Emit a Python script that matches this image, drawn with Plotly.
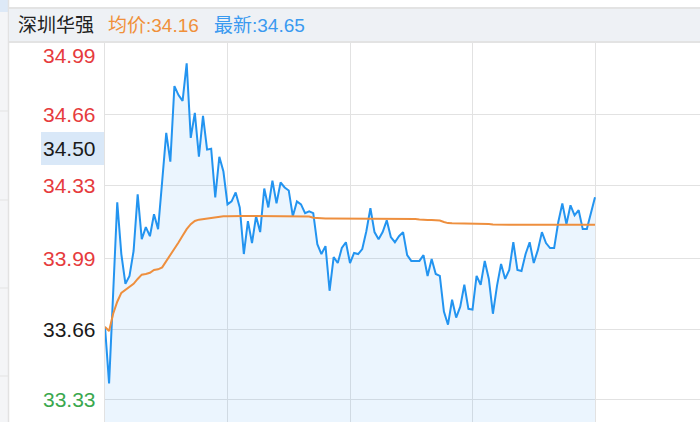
import plotly.graph_objects as go

W, H = 700, 422

stock_name = "深圳华强"
avg_label = "均价:34.16"
last_label = "最新:34.65"

# minute index (every 2 minutes, 0..120)
minutes = list(range(121))

price = [33.670, 33.407, 33.828, 34.250, 34.009, 33.870, 33.907, 34.023, 34.287, 34.078,
         34.134, 34.092, 34.194, 34.125, 34.347, 34.573, 34.439, 34.791, 34.749, 34.722,
         34.897, 34.550, 34.666, 34.462, 34.652, 34.495, 34.499, 34.273, 34.462, 34.393,
         34.240, 34.254, 34.296, 34.226, 34.009, 34.162, 34.060, 34.185, 34.111, 34.314,
         34.226, 34.351, 34.245, 34.342, 34.319, 34.305, 34.185, 34.254, 34.240, 34.199,
         34.208, 34.199, 34.055, 34.009, 34.046, 33.838, 33.995, 33.967, 34.037, 34.064,
         33.967, 34.014, 34.009, 34.032, 34.115, 34.222, 34.111, 34.078, 34.111, 34.166,
         34.088, 34.064, 34.092, 34.111, 34.004, 33.977, 33.977, 33.977, 34.004, 33.907,
         33.986, 33.916, 33.907, 33.741, 33.680, 33.796, 33.713, 33.764, 33.866, 33.754,
         33.750, 33.907, 33.866, 33.977, 33.893, 33.731, 33.861, 33.963, 33.893, 33.935,
         34.064, 33.935, 33.930, 34.009, 34.064, 33.967, 34.027, 34.111, 34.060, 34.037,
         34.037, 34.157, 34.245, 34.148, 34.236, 34.189, 34.213, 34.125, 34.125, 34.194,
         34.273]

avg_price = [33.670, 33.651, 33.731, 33.787, 33.828, 33.842, 33.856, 33.870, 33.893, 33.913,
             33.916, 33.922, 33.935, 33.938, 33.947, 33.975, 34.009, 34.032, 34.063, 34.094,
             34.125, 34.148, 34.163, 34.169, 34.172, 34.176, 34.179, 34.182, 34.183, 34.185,
             34.185, 34.186, 34.186, 34.186, 34.186, 34.186, 34.186, 34.186, 34.186, 34.186,
             34.186, 34.186, 34.186, 34.186, 34.186, 34.186, 34.186, 34.186, 34.186, 34.186,
             34.184, 34.178, 34.176, 34.175, 34.175, 34.175, 34.175, 34.175, 34.175, 34.175,
             34.174, 34.174, 34.174, 34.174, 34.174, 34.174, 34.174, 34.174, 34.174, 34.174,
             34.174, 34.174, 34.174, 34.174, 34.174, 34.174, 34.172, 34.170, 34.168, 34.168,
             34.168, 34.168, 34.165, 34.158, 34.153, 34.152, 34.152, 34.152, 34.152, 34.152,
             34.151, 34.151, 34.151, 34.151, 34.149, 34.146, 34.145, 34.145, 34.145, 34.145,
             34.145, 34.145, 34.145, 34.145, 34.145, 34.145, 34.145, 34.145, 34.145, 34.145,
             34.145, 34.145, 34.145, 34.145, 34.145, 34.145, 34.145, 34.145, 34.145, 34.145,
             34.145]

tick_values = [34.99, 34.66, 34.50, 34.33, 33.99, 33.66, 33.33]
tick_labels = ["34.99", "34.66", "34.50", "34.33", "33.99", "33.66", "33.33"]
tick_colors = ["#e63b3d", "#e63b3d", "#1a1a1a", "#e63b3d", "#e63b3d", "#1a1a1a", "#3aa84e"]
grid_values = [34.66, 34.33, 33.99, 33.66, 33.33]

FONT = "Liberation Sans, Arial, Noto Sans CJK SC, sans-serif"

fig = go.Figure()
fig.add_trace(go.Scatter(
    x=minutes, y=price, mode="lines",
    line=dict(color="#2394f0", width=2),
    fill="tozeroy", fillcolor="rgba(35,148,240,0.09)",
    hoverinfo="skip", showlegend=False))
fig.add_trace(go.Scatter(
    x=minutes, y=avg_price, mode="lines",
    line=dict(color="#ee8f3e", width=2),
    hoverinfo="skip", showlegend=False))

def px(x):
    return x / W

def py(y):
    return 1 - y / H

shapes = []
# left strip
shapes.append(dict(type="rect", xref="paper", yref="paper", x0=0, x1=px(8), y0=0, y1=1,
                   fillcolor="#f4f5f7", line_width=0, layer="below"))
shapes.append(dict(type="rect", xref="paper", yref="paper", x0=0, x1=px(8), y0=py(12), y1=1,
                   fillcolor="#dde9f7", line_width=0, layer="below"))
for yy in [111, 200, 288, 376]:
    shapes.append(dict(type="line", xref="paper", yref="paper", x0=0, x1=px(8), y0=py(yy), y1=py(yy),
                       line=dict(color="#e3e3e3", width=1)))
shapes.append(dict(type="line", xref="paper", yref="paper", x0=px(8.5), x1=px(8.5), y0=0, y1=1,
                   line=dict(color="#e2e2e2", width=1.5)))
# header bar
shapes.append(dict(type="rect", xref="paper", yref="paper", x0=px(9), x1=1, y0=py(42), y1=py(8),
                   fillcolor="#eef1f5", line_width=0))
shapes.append(dict(type="line", xref="paper", yref="paper", x0=px(9), x1=1, y0=py(8), y1=py(8),
                   line=dict(color="#e3e3e3", width=2)))
shapes.append(dict(type="line", xref="paper", yref="paper", x0=px(9), x1=1, y0=py(42), y1=py(42),
                   line=dict(color="#e3e3e3", width=2)))
# highlight box for the 34.50 label
shapes.append(dict(type="rect", xref="paper", yref="paper", x0=px(41), x1=px(104), y0=py(165), y1=py(132),
                   fillcolor="#d9e8f8", line_width=0, layer="below"))

annotations = []
for v, t, c in zip(tick_values, tick_labels, tick_colors):
    a = dict(x=px(98), xref="paper", y=v, yref="y", text=t, showarrow=False,
             xanchor="right", yanchor="middle", font=dict(family=FONT, size=21, color=c))
    if t == tick_labels[0]:
        a["yshift"] = -12
    annotations.append(a)

annotations.append(dict(x=px(16), y=py(25), xref="paper", yref="paper", text=stock_name,
                        showarrow=False, xanchor="left", yanchor="middle",
                        font=dict(family=FONT, size=19, color="#222222")))
annotations.append(dict(x=px(106), y=py(25), xref="paper", yref="paper", text=avg_label,
                        showarrow=False, xanchor="left", yanchor="middle",
                        font=dict(family=FONT, size=19, color="#f0903a")))
annotations.append(dict(x=px(212), y=py(25), xref="paper", yref="paper", text=last_label,
                        showarrow=False, xanchor="left", yanchor="middle",
                        font=dict(family=FONT, size=19, color="#3a9af0")))

fig.update_layout(
    width=W, height=H,
    margin=dict(l=0, r=0, t=0, b=0),
    paper_bgcolor="white", plot_bgcolor="white",
    shapes=shapes, annotations=annotations,
    xaxis=dict(domain=[105 / W, 1], range=[0, 595 / 4.0833], tick0=0, dtick=30,
               showgrid=True, gridcolor="#e2e2e2", gridwidth=1, zeroline=False,
               showticklabels=False, ticks="", fixedrange=True),
    yaxis=dict(domain=[0, 1 - 43 / H], range=[33.227, 34.9915],
               tickmode="array", tickvals=grid_values, showticklabels=False,
               showgrid=True, gridcolor="#e2e2e2", gridwidth=1, zeroline=False,
               showline=True, linecolor="#e2e2e2", linewidth=1, ticks="", fixedrange=True),
)

fig.write_html("out.html", config={"displayModeBar": False},
               post_script="document.body.style.margin='0';document.body.style.overflow='hidden';")
